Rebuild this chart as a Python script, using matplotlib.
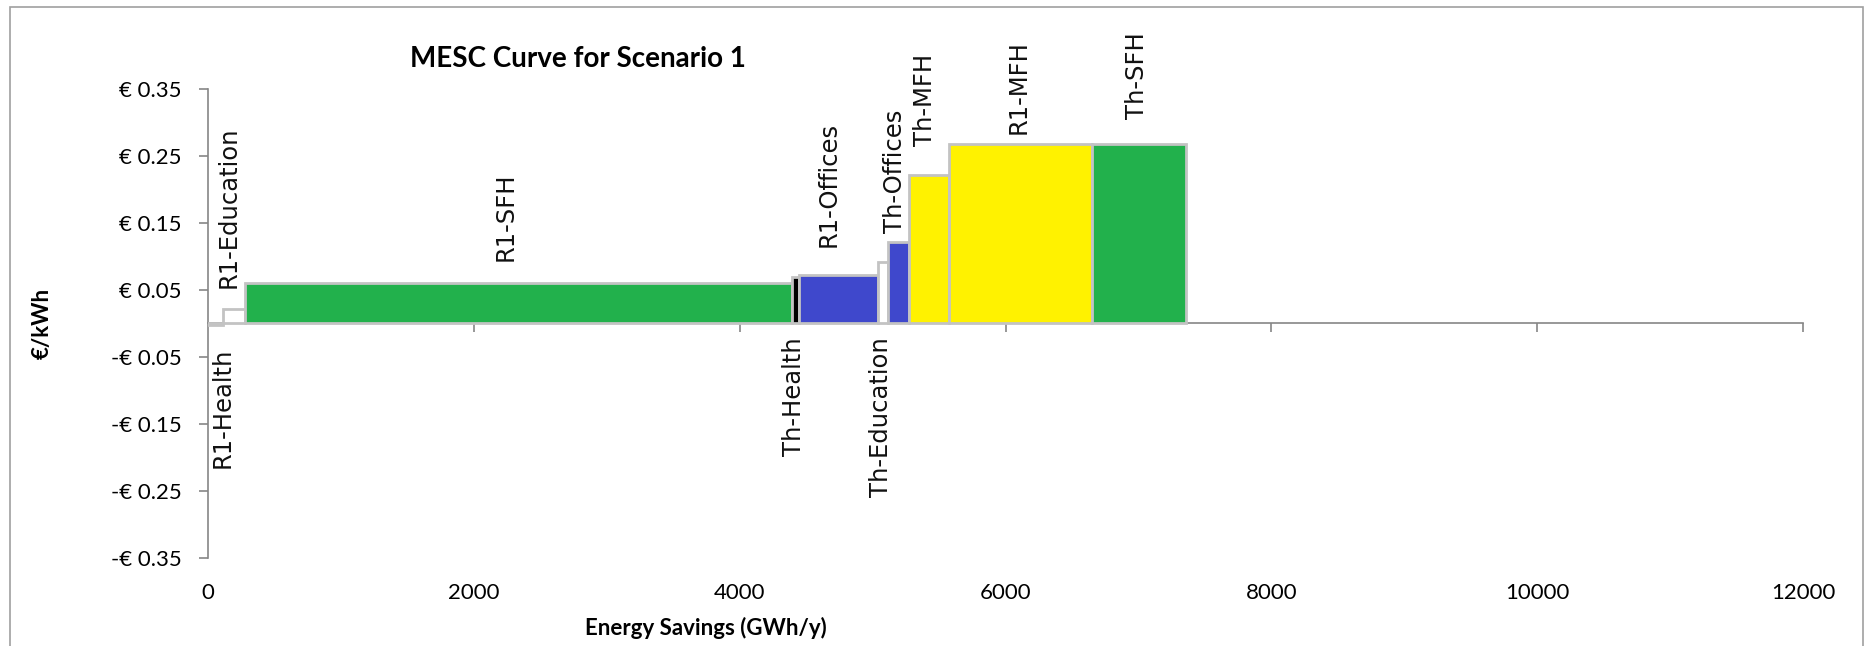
import matplotlib
matplotlib.use("Agg")
import matplotlib.pyplot as plt
from matplotlib.patches import Rectangle

# Data
measures = ["R1-Health", "R1-Education", "R1-SFH", "Th-Health", "R1-Offices",
            "Th-Education", "Th-Offices", "Th-MFH", "R1-MFH", "Th-SFH"]
savings = [113, 165, 4112, 57, 594, 76, 158, 300, 1072, 709]   # GWh/y (bar widths)
costs = [-0.003, 0.022, 0.060, 0.069, 0.073, 0.091, 0.121, 0.221, 0.268, 0.268]  # EUR/kWh
colors = ["white", "white", "#22B14C", "black", "#3F48CC",
          "white", "#3F48CC", "#FFF200", "#FFF200", "#22B14C"]

x_ticks = [0, 2000, 4000, 6000, 8000, 10000, 12000]
y_ticks = [-0.35, -0.25, -0.15, -0.05, 0.05, 0.15, 0.25, 0.35]

# label offsets in pixels (dx, dy) relative to bar centre / top
label_dx = [7, -6, -13, -1, -10, -2, -4, -4, -2, -2]
label_dy = [-22, 21, 22, -14, 28, -14, 9, 29, 10, 25]

W, H, DPI = 1868, 646, 100
fig = plt.figure(figsize=(W / DPI, H / DPI), dpi=DPI)
ax = fig.add_axes([208.3 / W, 1 - 557.8 / H, (1803 - 208.3) / W, (557.8 - 89) / H])

gray = "#868686"
tick_font = "Lato"

# cumulative left edges
lefts = []
acc = 0
for s in savings:
    lefts.append(acc)
    acc += s

ax.bar(lefts, costs, width=savings, align="edge", color=colors,
       edgecolor="#C3C3C3", linewidth=2, zorder=3)

ax.set_xlim(0, 12000)
ax.set_ylim(-0.35, 0.35)

for side in ["top", "right", "bottom"]:
    ax.spines[side].set_visible(False)
ax.spines["left"].set_color(gray)
ax.spines["left"].set_linewidth(1.2)

ax.set_yticks(y_ticks)
ax.set_yticklabels([("€ %.2f" % v) if v >= 0 else ("-€ %.2f" % abs(v)) for v in y_ticks],
                   fontfamily=tick_font, fontsize=16)
ax.tick_params(axis="y", direction="out", length=6.5, width=1.2, color=gray, pad=12.5)

ax.set_xticks(x_ticks)
ax.set_xticklabels([str(v) for v in x_ticks], fontfamily=tick_font, fontsize=16)
ax.tick_params(axis="x", length=0, pad=18)

# zero line with ticks
sec = ax.secondary_xaxis(0, transform=ax.transData)
sec.set_xticks(x_ticks[1:])
sec.tick_params(axis="x", direction="out", length=6.5, width=1.2, color=gray,
                labelbottom=False)
sec.spines["bottom"].set_color(gray)
sec.spines["bottom"].set_linewidth(1.2)

# bar labels
for i, name in enumerate(measures):
    xc = lefts[i] + savings[i] / 2
    if label_dy[i] < 0:
        y0 = min(0, costs[i])
        va = "top"
    else:
        y0 = costs[i]
        va = "bottom"
    ax.annotate(name, xy=(xc, y0), xytext=(label_dx[i], label_dy[i]),
                textcoords="offset pixels", rotation=90, ha="center", va=va,
                fontfamily="DejaVu Sans", fontsize=17.5, color="#111111", zorder=5)

ax.set_xlabel("Energy Savings (GWh/y)", fontfamily=tick_font, fontsize=16,
              fontweight="bold", va="center")
ax.xaxis.set_label_coords(0.312, (557.8 - 628) / (557.8 - 89))
ax.set_ylabel("€/kWh", fontfamily=tick_font, fontsize=16, fontweight="bold", va="center")
ax.yaxis.set_label_coords((42 - 208.3) / (1803 - 208.3), 0.5)

fig.text(578 / W, 1 - 59 / H, "MESC Curve for Scenario 1", ha="center", va="center",
         fontfamily=tick_font, fontsize=20, fontweight="bold")

# chart area border
fig.patches.append(Rectangle((9.5 / W, -0.1), (1863 - 9.5) / W, 1.1 - 7 / H,
                             transform=fig.transFigure, fill=False,
                             edgecolor="#A0A0A0", linewidth=1.2))

fig.savefig("out.png", dpi=DPI)
